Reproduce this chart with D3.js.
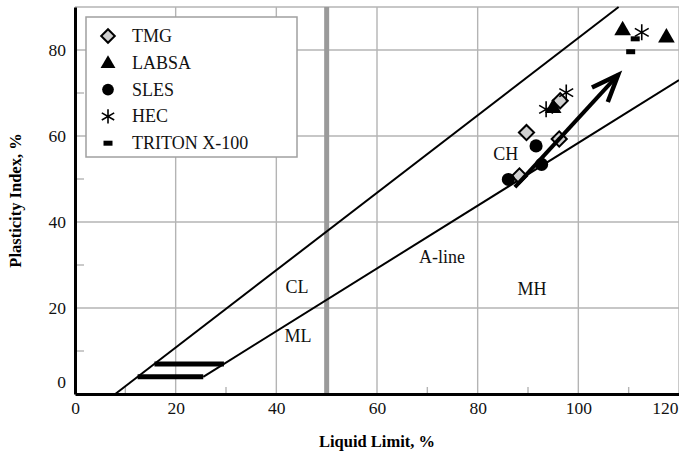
<!DOCTYPE html>
<html>
<head>
<meta charset="utf-8">
<script src="https://cdn.jsdelivr.net/npm/d3@7"></script>
<style>
  html, body { margin: 0; padding: 0; background: #fff; }
  svg { display: block; font-family: "Liberation Serif", "DejaVu Serif", serif; }
</style>
</head>
<body>
<svg id="chart" width="679" height="456"></svg>
<script>
// Plasticity chart: liquid limit vs plasticity index for soil treated with additives

// Axis ticks
const xTicks = [0, 20, 40, 60, 80, 100, 120];
const yTicks = [0, 20, 40, 60, 80];
const xMinor = [10, 30, 50, 70, 90, 110];
const yMinor = [10, 30, 50, 70];

// Series (LL %, PI %)
const tmgLL = [88.3, 89.7, 96.2, 96.4];
const tmgPI = [50.7, 60.8, 59.3, 68.2];
const labsaLL = [95.0, 108.8, 117.5];
const labsaPI = [66.7, 84.8, 83.1];
const slesLL = [86.1, 91.6, 92.7];
const slesPI = [49.9, 57.7, 53.4];
const hecLL = [93.6, 97.6, 112.6];
const hecPI = [66.2, 70.1, 84.1];
const tritonLL = [111.3, 110.4];
const tritonPI = [82.6, 79.6];

const seriesNames = ["TMG", "LABSA", "SLES", "HEC", "TRITON X-100"];

// Reference lines of the Casagrande chart
const uLine = [[8, 0], [108, 90]];            // PI = 0.9 (LL - 8)
const aLine = [[25.48, 4], [120, 73]];        // PI = 0.73 (LL - 20)
const clmlBands = [[[12.44, 4], [25.48, 4]], [[15.78, 7], [29.59, 7]]];
const trendArrow = [[87.4, 48.1], [107.9, 74.2]];

// Zone labels
const zoneLabels = [
  { text: "CL", ll: 44.1, pi: 24.9 },
  { text: "ML", ll: 44.3, pi: 13.5 },
  { text: "A-line", ll: 72.9, pi: 31.9 },
  { text: "MH", ll: 90.8, pi: 24.4 },
  { text: "CH", ll: 85.6, pi: 55.8 }
];

const svg = d3.select("#chart");
const m = { left: 75, right: 679, top: 7, bottom: 394 };
const x = d3.scaleLinear().domain([0, 120]).range([m.left, m.right]);
const y = d3.scaleLinear().domain([0, 90]).range([m.bottom, m.top]);

// Grid
const grid = svg.append("g");
grid.selectAll("line.gx").data(xTicks.slice(1)).join("line")
  .attr("x1", d => x(d)).attr("x2", d => x(d))
  .attr("y1", y(0)).attr("y2", y(90))
  .attr("stroke", "#b4b4b4").attr("stroke-width", 1.4);
grid.selectAll("line.gy").data(yTicks.slice(1).concat([90])).join("line")
  .attr("x1", x(0)).attr("x2", x(120))
  .attr("y1", d => y(d)).attr("y2", d => y(d))
  .attr("stroke", "#b4b4b4").attr("stroke-width", 1.4);
// minor inward ticks
grid.selectAll("line.mx").data(xMinor).join("line")
  .attr("x1", d => x(d)).attr("x2", d => x(d))
  .attr("y1", y(0)).attr("y2", y(0) - 7)
  .attr("stroke", "#b4b4b4").attr("stroke-width", 1.4);
grid.selectAll("line.my").data(yMinor).join("line")
  .attr("x1", x(0)).attr("x2", x(0) + 9)
  .attr("y1", d => y(d)).attr("y2", d => y(d))
  .attr("stroke", "#b4b4b4").attr("stroke-width", 1.4);

// LL = 50 divider
svg.append("line")
  .attr("x1", x(50)).attr("x2", x(50)).attr("y1", y(0)).attr("y2", y(90))
  .attr("stroke", "#9a9a9a").attr("stroke-width", 5);

// Axes
const xAxis = svg.append("g").attr("transform", `translate(0,${y(0)})`)
  .call(d3.axisBottom(x).tickValues(xTicks).tickSize(0).tickPadding(8));
xAxis.select(".domain").attr("stroke", "#000").attr("stroke-width", 3);
xAxis.selectAll("text").attr("font-size", 17.5).attr("fill", "#111")
  .attr("font-family", "Liberation Serif, serif");
xAxis.selectAll(".tick").filter(d => d === 120).select("text")
  .attr("text-anchor", "end").attr("dx", -1);

const yAxis = svg.append("g").attr("transform", `translate(${x(0)},0)`)
  .call(d3.axisLeft(y).tickValues(yTicks).tickSize(0).tickPadding(9));
yAxis.select(".domain").attr("stroke", "#000").attr("stroke-width", 3);
yAxis.selectAll("text").attr("font-size", 17.5).attr("fill", "#111")
  .attr("font-family", "Liberation Serif, serif");
yAxis.selectAll(".tick").filter(d => d === 0).select("text").attr("dy", "-0.38em");

// Axis titles
svg.append("text").attr("x", (m.left + m.right) / 2).attr("y", 447)
  .attr("text-anchor", "middle").attr("font-weight", "bold").attr("font-size", 16.5)
  .text("Liquid Limit, %");
svg.append("text").attr("transform", `translate(21,${(m.top + m.bottom) / 2}) rotate(-90)`)
  .attr("text-anchor", "middle").attr("font-weight", "bold").attr("font-size", 16.5)
  .text("Plasticity Index, %");

// U-line, A-line, CL-ML bands
const line = d3.line().x(d => x(d[0])).y(d => y(d[1]));
svg.append("path").attr("d", line(uLine)).attr("stroke", "#000").attr("stroke-width", 2).attr("fill", "none");
svg.append("path").attr("d", line(aLine)).attr("stroke", "#000").attr("stroke-width", 2).attr("fill", "none");
clmlBands.forEach(b => svg.append("path").attr("d", line(b))
  .attr("stroke", "#000").attr("stroke-width", 5).attr("fill", "none"));

// Zone labels
svg.selectAll("text.zone").data(zoneLabels).join("text")
  .attr("x", d => x(d.ll)).attr("y", d => y(d.pi))
  .attr("text-anchor", "middle").attr("dominant-baseline", "central")
  .attr("font-size", 18).attr("fill", "#111").text(d => d.text);

// Marker shapes
function asteriskPath(r) {
  const p = d3.path();
  [90, 30, 150].forEach(a => {
    const t = a * Math.PI / 180;
    p.moveTo(-r * Math.cos(t), -r * Math.sin(t));
    p.lineTo(r * Math.cos(t), r * Math.sin(t));
  });
  return p.toString();
}
function makeMarkers(k) {
  return {
    TMG: g => g.append("path").attr("d", d3.symbol(d3.symbolSquare, 115 * k)())
      .attr("transform", "rotate(45)").attr("fill", "#d0d0d0").attr("stroke", "#000").attr("stroke-width", 2),
    LABSA: g => g.append("path").attr("d", d3.symbol(d3.symbolTriangle, 120 * k)())
      .attr("transform", "translate(0,1)").attr("fill", "#000"),
    SLES: g => g.append("path").attr("d", d3.symbol(d3.symbolCircle, 135 * k)()).attr("fill", "#000"),
    HEC: g => g.append("path").attr("d", asteriskPath(8 * Math.sqrt(k)))
      .attr("stroke", "#000").attr("stroke-width", 1.6).attr("fill", "none"),
    "TRITON X-100": g => g.append("rect").attr("x", -4.5).attr("y", -2.5).attr("width", 9).attr("height", 5).attr("fill", "#000")
  };
}
const markers = makeMarkers(1);
const legendMarkers = makeMarkers(0.8);

const series = [
  { name: "TMG", ll: tmgLL, pi: tmgPI },
  { name: "LABSA", ll: labsaLL, pi: labsaPI },
  { name: "SLES", ll: slesLL, pi: slesPI },
  { name: "HEC", ll: hecLL, pi: hecPI },
  { name: "TRITON X-100", ll: tritonLL, pi: tritonPI }
];
const pts = svg.append("g");
series.forEach(s => {
  s.ll.forEach((v, i) => {
    const g = pts.append("g").attr("transform", `translate(${x(v)},${y(s.pi[i])})`);
    markers[s.name](g);
  });
});

// Trend arrow
const [a0, a1] = trendArrow.map(d => [x(d[0]), y(d[1])]);
const ang = Math.atan2(a1[1] - a0[1], a1[0] - a0[0]);
const head = 29, spread = 0.38;
svg.append("path").attr("d", line(trendArrow))
  .attr("stroke", "#000").attr("stroke-width", 4).attr("fill", "none");
svg.append("path")
  .attr("d", `M${a1[0] - head * Math.cos(ang - spread)},${a1[1] - head * Math.sin(ang - spread)}L${a1[0]},${a1[1]}L${a1[0] - head * Math.cos(ang + spread)},${a1[1] - head * Math.sin(ang + spread)}`)
  .attr("stroke", "#000").attr("stroke-width", 4.5).attr("fill", "none").attr("stroke-linejoin", "miter");

// Legend
const lg = svg.append("g");
lg.append("rect").attr("x", 86).attr("y", 17).attr("width", 211).attr("height", 140)
  .attr("fill", "#fff").attr("stroke", "#a0a0a0").attr("stroke-width", 1.5);
seriesNames.forEach((n, i) => {
  const cy = 36 + i * 26.8;
  const g = lg.append("g").attr("transform", `translate(108,${cy})`);
  legendMarkers[n](g);
  lg.append("text").attr("x", 132).attr("y", cy).attr("dominant-baseline", "central")
    .attr("font-size", 18).attr("fill", "#111").text(n);
});
</script>
</body>
</html>
